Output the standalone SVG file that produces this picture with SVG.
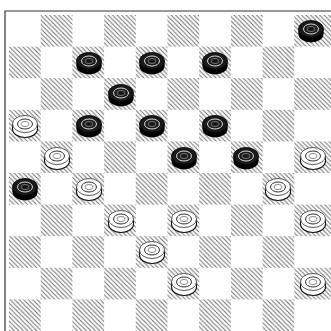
<svg xmlns="http://www.w3.org/2000/svg" xmlns:xlink="http://www.w3.org/1999/xlink" width="331" height="331" viewBox="0 0 331 331">
<style>
.dark{fill:url(#hatch)}
.frame{fill:none;stroke:#333;stroke-width:1.2}
</style>
<defs>
<pattern id="hatch" width="4.5" height="4.5" patternUnits="userSpaceOnUse">
<path d="M0,0 L4.5,4.5 M-1,3.5 L1,5.5 M3.5,-1 L5.5,1" stroke="#707070" stroke-width="1"/>
</pattern>
<g id="bp">
<ellipse cx="0" cy="3" rx="12.5" ry="8.5" fill="#000"/>
<rect x="-12.5" y="-2" width="25" height="5" fill="#000"/>
<ellipse cx="0" cy="-2" rx="12.5" ry="8.5" fill="#1a1a1a" stroke="#000" stroke-width="0.8"/>
<ellipse cx="0" cy="-2" rx="7.5" ry="5" fill="none" stroke="#ddd" stroke-width="1"/>
<ellipse cx="0" cy="-2" rx="4" ry="2.6" fill="none" stroke="#888" stroke-width="0.8"/>
</g>
<g id="wp">
<ellipse cx="0" cy="3" rx="12.5" ry="8.5" fill="#fff" stroke="#111" stroke-width="1.2"/>
<rect x="-12.5" y="-2" width="25" height="5" fill="#fff"/>
<line x1="-12.5" y1="-2" x2="-12.5" y2="3" stroke="#111" stroke-width="1"/>
<line x1="12.5" y1="-2" x2="12.5" y2="3" stroke="#111" stroke-width="1"/>
<ellipse cx="0" cy="-2" rx="12.5" ry="8.5" fill="#fff" stroke="#444" stroke-width="0.9"/>
<ellipse cx="0" cy="-2" rx="7.5" ry="5" fill="none" stroke="#333" stroke-width="1"/>
<ellipse cx="0" cy="-2" rx="4" ry="2.6" fill="none" stroke="#777" stroke-width="0.8"/>
</g>
</defs>
<rect x="0" y="0" width="331" height="331" fill="#fff"/>
<path class="frame" d="M5,331 L5,11 L331,11"/>
<g id="board" transform="translate(9,15)">
<g id="squares">
<rect class="dark" x="31.7" y="0" width="31.7" height="31.6"/>
<rect class="dark" x="95.1" y="0" width="31.7" height="31.6"/>
<rect class="dark" x="158.5" y="0" width="31.7" height="31.6"/>
<rect class="dark" x="221.9" y="0" width="31.7" height="31.6"/>
<rect class="dark" x="285.3" y="0" width="36.7" height="31.6"/>
<rect class="dark" x="0" y="31.6" width="31.7" height="31.6"/>
<rect class="dark" x="63.4" y="31.6" width="31.7" height="31.6"/>
<rect class="dark" x="126.8" y="31.6" width="31.7" height="31.6"/>
<rect class="dark" x="190.2" y="31.6" width="31.7" height="31.6"/>
<rect class="dark" x="253.6" y="31.6" width="31.7" height="31.6"/>
<rect class="dark" x="31.7" y="63.2" width="31.7" height="31.6"/>
<rect class="dark" x="95.1" y="63.2" width="31.7" height="31.6"/>
<rect class="dark" x="158.5" y="63.2" width="31.7" height="31.6"/>
<rect class="dark" x="221.9" y="63.2" width="31.7" height="31.6"/>
<rect class="dark" x="285.3" y="63.2" width="36.7" height="31.6"/>
<rect class="dark" x="0" y="94.8" width="31.7" height="31.6"/>
<rect class="dark" x="63.4" y="94.8" width="31.7" height="31.6"/>
<rect class="dark" x="126.8" y="94.8" width="31.7" height="31.6"/>
<rect class="dark" x="190.2" y="94.8" width="31.7" height="31.6"/>
<rect class="dark" x="253.6" y="94.8" width="31.7" height="31.6"/>
<rect class="dark" x="31.7" y="126.4" width="31.7" height="31.6"/>
<rect class="dark" x="95.1" y="126.4" width="31.7" height="31.6"/>
<rect class="dark" x="158.5" y="126.4" width="31.7" height="31.6"/>
<rect class="dark" x="221.9" y="126.4" width="31.7" height="31.6"/>
<rect class="dark" x="285.3" y="126.4" width="36.7" height="31.6"/>
<rect class="dark" x="0" y="158" width="31.7" height="31.6"/>
<rect class="dark" x="63.4" y="158" width="31.7" height="31.6"/>
<rect class="dark" x="126.8" y="158" width="31.7" height="31.6"/>
<rect class="dark" x="190.2" y="158" width="31.7" height="31.6"/>
<rect class="dark" x="253.6" y="158" width="31.7" height="31.6"/>
<rect class="dark" x="31.7" y="189.6" width="31.7" height="31.6"/>
<rect class="dark" x="95.1" y="189.6" width="31.7" height="31.6"/>
<rect class="dark" x="158.5" y="189.6" width="31.7" height="31.6"/>
<rect class="dark" x="221.9" y="189.6" width="31.7" height="31.6"/>
<rect class="dark" x="285.3" y="189.6" width="36.7" height="31.6"/>
<rect class="dark" x="0" y="221.2" width="31.7" height="31.6"/>
<rect class="dark" x="63.4" y="221.2" width="31.7" height="31.6"/>
<rect class="dark" x="126.8" y="221.2" width="31.7" height="31.6"/>
<rect class="dark" x="190.2" y="221.2" width="31.7" height="31.6"/>
<rect class="dark" x="253.6" y="221.2" width="31.7" height="31.6"/>
<rect class="dark" x="31.7" y="252.8" width="31.7" height="31.6"/>
<rect class="dark" x="95.1" y="252.8" width="31.7" height="31.6"/>
<rect class="dark" x="158.5" y="252.8" width="31.7" height="31.6"/>
<rect class="dark" x="221.9" y="252.8" width="31.7" height="31.6"/>
<rect class="dark" x="285.3" y="252.8" width="36.7" height="31.6"/>
<rect class="dark" x="0" y="284.4" width="31.7" height="32"/>
<rect class="dark" x="63.4" y="284.4" width="31.7" height="32"/>
<rect class="dark" x="126.8" y="284.4" width="31.7" height="32"/>
<rect class="dark" x="190.2" y="284.4" width="31.7" height="32"/>
<rect class="dark" x="253.6" y="284.4" width="31.7" height="32"/>
</g>
</g>
<g id="pieces">
<g id="b-r0c9"><use xlink:href="#bp" x="311" y="31"/></g>
<g id="b-r1c2"><use xlink:href="#bp" x="89" y="63"/></g>
<g id="b-r1c4"><use xlink:href="#bp" x="152" y="63"/></g>
<g id="b-r1c6"><use xlink:href="#bp" x="215" y="63"/></g>
<g id="b-r2c3"><use xlink:href="#bp" x="121" y="95"/></g>
<g id="w-r3c0"><use xlink:href="#wp" x="25" y="126"/></g>
<g id="b-r3c2"><use xlink:href="#bp" x="89" y="126"/></g>
<g id="b-r3c4"><use xlink:href="#bp" x="152" y="126"/></g>
<g id="b-r3c6"><use xlink:href="#bp" x="215" y="126"/></g>
<g id="w-r4c1"><use xlink:href="#wp" x="57" y="158"/></g>
<g id="b-r4c5"><use xlink:href="#bp" x="184" y="158"/></g>
<g id="b-r4c7"><use xlink:href="#bp" x="246" y="158"/></g>
<g id="w-r4c9"><use xlink:href="#wp" x="313" y="158"/></g>
<g id="b-r5c0"><use xlink:href="#bp" x="25" y="189"/></g>
<g id="w-r5c2"><use xlink:href="#wp" x="89" y="189"/></g>
<g id="w-r5c8"><use xlink:href="#wp" x="278" y="189"/></g>
<g id="w-r6c3"><use xlink:href="#wp" x="121" y="221"/></g>
<g id="w-r6c5"><use xlink:href="#wp" x="184" y="221"/></g>
<g id="w-r6c9"><use xlink:href="#wp" x="313" y="221"/></g>
<g id="w-r7c4"><use xlink:href="#wp" x="152" y="252"/></g>
<g id="w-r8c5"><use xlink:href="#wp" x="184" y="284"/></g>
<g id="w-r8c9"><use xlink:href="#wp" x="313" y="284"/></g>
</g>
<g id="connectors"/>
</svg>
